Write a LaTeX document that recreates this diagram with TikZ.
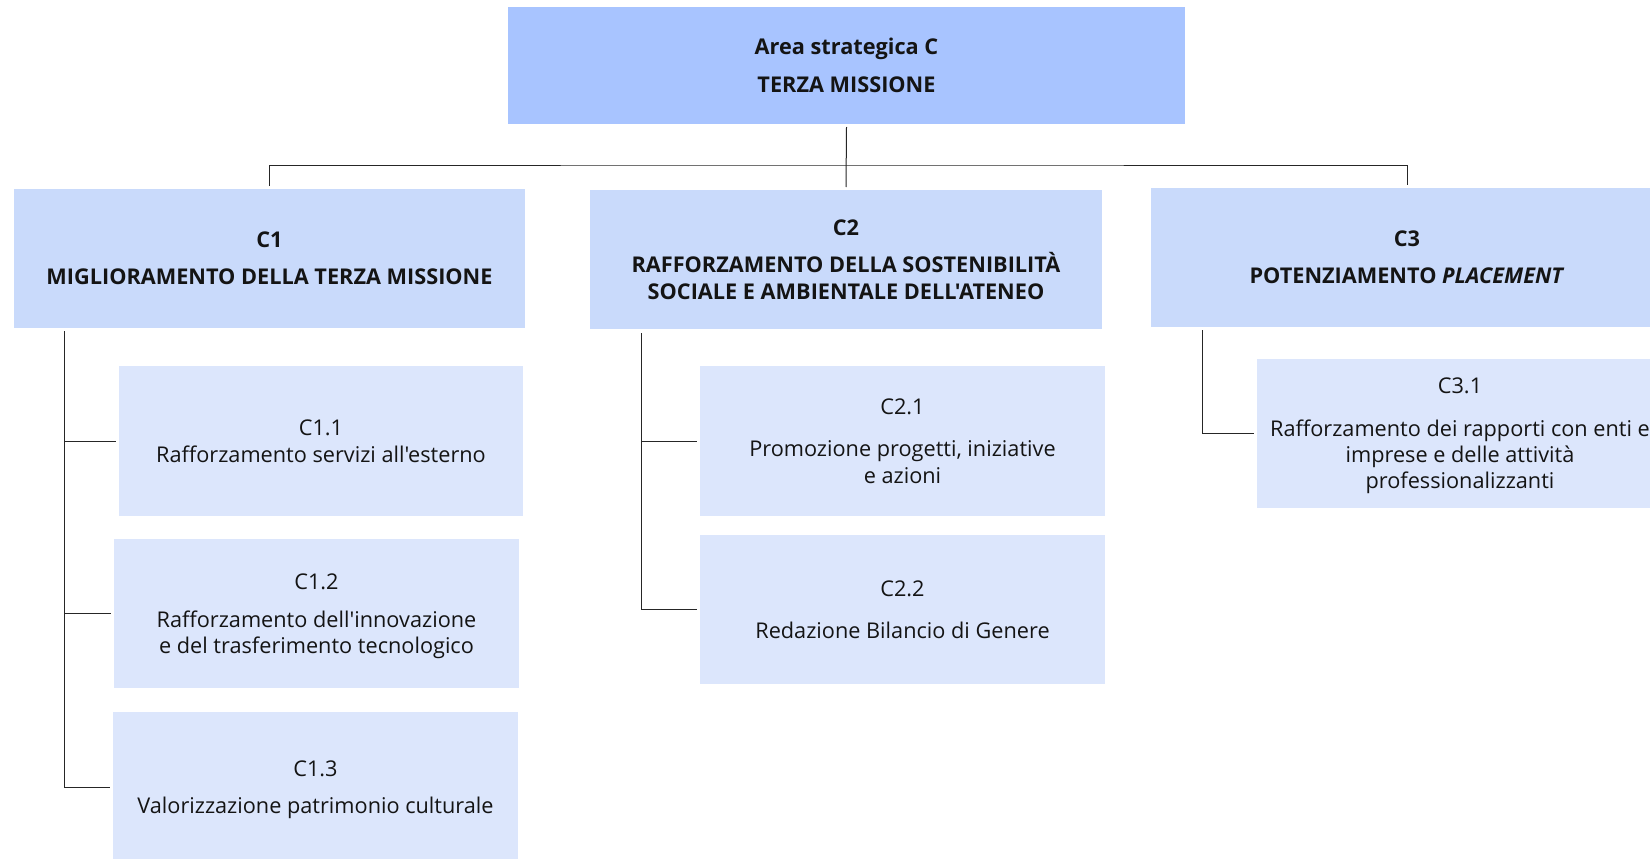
\documentclass[tikz,border=0pt]{standalone}
\usepackage{fontspec}
\setmainfont{Open Sans}[Ligatures=TeXOff]
\definecolor{areafill}{RGB}{168,196,255}
\definecolor{objfill}{RGB}{201,218,251}
\definecolor{actfill}{RGB}{220,230,252}
\definecolor{ink}{RGB}{20,20,20}
\newcommand\boxfont{\fontsize{21.7}{26.3}\selectfont}
\begin{document}
\begin{tikzpicture}[x=1pt,y=-1pt,
  card/.style={rectangle, inner sep=0pt, outer sep=0pt, align=center,
    text=ink, font=\boxfont},
  areabox/.style={card, fill=areafill, font=\boxfont\bfseries},
  objbox/.style={card, fill=objfill, font=\boxfont\bfseries},
  actbox/.style={card, fill=actfill},
  caption/.style={inner sep=0pt, align=center, text=ink, font=\boxfont},
  link/.style={draw=black!85, line width=1pt}]
\useasboundingbox (0,0) rectangle (1650,859);
\clip (0,0) rectangle (1650,859);

% strategic area
\node[areabox, minimum width=677pt, minimum height=117pt] (top) at (846.5,65.5)
  {Area strategica C\\[11pt]TERZA MISSIONE};

% objectives
\node[objbox, minimum width=511pt, minimum height=139pt] (c1) at (269.5,258.5)
  {C1\\[11pt]MIGLIORAMENTO DELLA TERZA MISSIONE};
\node[objbox, minimum width=512pt, minimum height=139pt] (c2) at (846,259.5)
  {C2\\[11pt]RAFFORZAMENTO DELLA SOSTENIBILITÀ\\SOCIALE E AMBIENTALE DELL'ATENEO};
\node[objbox, minimum width=512pt, minimum height=139pt] (c3) at (1407,257.5)
  {C3\\[11pt]POTENZIAMENTO \textit{PLACEMENT}};

% actions
\node[actbox, minimum width=404pt, minimum height=150pt] (c11) at (321,441)
  {C1.1\\[1pt]Rafforzamento servizi all'esterno};
\node[actbox, minimum width=405pt, minimum height=149pt,
  label={[caption, yshift=-3pt]center:{C1.2\\[11pt]Rafforzamento dell'innovazione\\e del trasferimento tecnologico}}]
  (c12) at (316.5,613.5) {};
\node[actbox, minimum width=405pt, minimum height=150pt,
  label={[caption, yshift=-3pt]center:{C1.3\\[11pt]Valorizzazione patrimonio culturale}}]
  (c13) at (315.5,787) {};
\node[actbox, minimum width=405pt, minimum height=150pt] (c21) at (902.5,441)
  {C2.1\\[16pt]Promozione progetti, iniziative\\e azioni};
\node[actbox, minimum width=405pt, minimum height=149pt] (c22) at (902.5,609.5)
  {C2.2\\[16pt]Redazione Bilancio di Genere};
\node[actbox, minimum width=406pt, minimum height=149pt,
  label={[caption, yshift=-2.5pt]center:{C3.1\\[16pt]Rafforzamento dei rapporti con enti e\\imprese e delle attività\\professionalizzanti}}]
  (c31) at (1460,433.5) {};

% area to objectives
\coordinate (bus) at (846,165);
\draw[link] ([yshift=-3pt]top.south) -- ([yshift=3pt]c2.north);
\draw[link] ([yshift=3pt]c1.north) |- (bus) -| ([yshift=3pt]c3.north);

% objectives to actions
\coordinate (s1) at (64,331);
\draw[link] (s1) |- ([xshift=-3pt]c13.west);
\draw[link] (s1 |- c11.west) -- ([xshift=-3pt]c11.west);
\draw[link] (s1 |- c12.west) -- ([xshift=-3pt]c12.west);

\coordinate (s2) at (641,333);
\draw[link] (s2) |- ([xshift=-3pt]c22.west);
\draw[link] (s2 |- c21.west) -- ([xshift=-3pt]c21.west);

\coordinate (s3) at (1202,330);
\draw[link] (s3) |- ([xshift=-3pt]c31.west);
\end{tikzpicture}
\end{document}
